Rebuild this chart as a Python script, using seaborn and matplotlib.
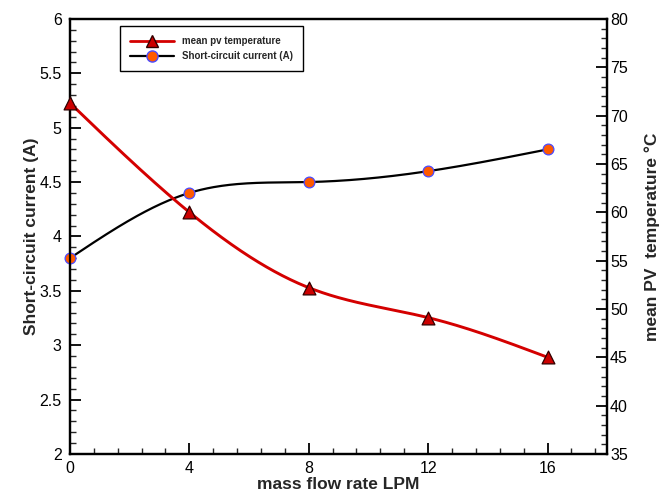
import numpy as np
import pandas as pd
import matplotlib
matplotlib.use("Agg")
import matplotlib.pyplot as plt
import seaborn as sns
from matplotlib.ticker import MultipleLocator
from matplotlib.lines import Line2D

# ---- data ----
flow_lpm = [0, 4, 8, 12, 16]
short_circuit_current = [3.8, 4.4, 4.5, 4.6, 4.8]
mean_pv_temperature = [71.3, 60.0, 52.2, 49.1, 45.0]
x_ticks = [0, 4, 8, 12, 16]


def natural_spline(x, y, n=300):
    """Smooth rendering curve through the data points (natural cubic spline)."""
    x = np.asarray(x, float)
    y = np.asarray(y, float)
    k = len(x)
    h = np.diff(x)
    A = np.zeros((k, k))
    b = np.zeros(k)
    A[0, 0] = A[-1, -1] = 1
    for i in range(1, k - 1):
        A[i, i - 1] = h[i - 1]
        A[i, i] = 2 * (h[i - 1] + h[i])
        A[i, i + 1] = h[i]
        b[i] = 3 * ((y[i + 1] - y[i]) / h[i] - (y[i] - y[i - 1]) / h[i - 1])
    c = np.linalg.solve(A, b)
    xs = np.linspace(x[0], x[-1], n)
    ys = np.empty_like(xs)
    for j, xv in enumerate(xs):
        i = min(np.searchsorted(x, xv, side="right") - 1, k - 2)
        d = xv - x[i]
        bb = (y[i + 1] - y[i]) / h[i] - h[i] * (2 * c[i] + c[i + 1]) / 3
        dd = (c[i + 1] - c[i]) / (3 * h[i])
        ys[j] = y[i] + bb * d + c[i] * d ** 2 + dd * d ** 3
    return xs, ys


sns.set_theme(style="white")
plt.rcParams["font.family"] = ["Liberation Sans", "DejaVu Sans"]

fig = plt.figure(figsize=(6.6, 4.91), dpi=100)
ax = fig.add_axes([0.106, 0.0755, 0.814, 0.886])
ax2 = ax.twinx()

red = "#d40000"
cur_x, cur_y = natural_spline(flow_lpm, short_circuit_current)
tmp_x, tmp_y = natural_spline(flow_lpm, mean_pv_temperature)

sns.lineplot(x=cur_x, y=cur_y, ax=ax, color="black", lw=1.6, zorder=2)
sns.scatterplot(x=flow_lpm, y=short_circuit_current, ax=ax, marker="o", s=60,
                color="#ff5a00", edgecolor="#4a4aff", linewidth=0.9, zorder=3,
                clip_on=False)

sns.lineplot(x=tmp_x, y=tmp_y, ax=ax2, color=red, lw=2.1, zorder=2)
sns.scatterplot(x=flow_lpm, y=mean_pv_temperature, ax=ax2, marker="^", s=85,
                color="#cc0000", edgecolor="#300000", linewidth=0.9, zorder=3,
                clip_on=False)

ax.set_xlim(0, 18)
ax.set_ylim(2, 6)
ax2.set_ylim(35, 80)

ax.set_xticks(x_ticks)
ax.xaxis.set_minor_locator(MultipleLocator(0.8))
ax.yaxis.set_major_locator(MultipleLocator(0.5))
ax.yaxis.set_minor_locator(MultipleLocator(0.1))
ax2.yaxis.set_major_locator(MultipleLocator(5))
ax2.yaxis.set_minor_locator(MultipleLocator(1))

ax.set_yticklabels([f"{v:g}" for v in ax.get_yticks()])

for a in (ax, ax2):
    for s in a.spines.values():
        s.set_linewidth(1.6)
        s.set_color("black")
        s.set_visible(True)

ax.tick_params(axis="both", which="major", direction="in", length=8, width=1.3,
               labelsize=11.5, colors="black", left=True, bottom=True,
               right=False, top=False)
ax.tick_params(axis="y", which="major", pad=6)
ax.tick_params(axis="x", which="major", pad=5)
ax.tick_params(axis="both", which="minor", direction="in", length=4.5, width=1.0,
               left=True, bottom=True, right=False, top=False)
ax2.tick_params(axis="y", which="major", direction="in", length=8, width=1.3,
                labelsize=11.5, colors="black", right=True, left=False, pad=2)
ax2.tick_params(axis="y", which="minor", direction="in", length=4.5, width=1.0,
                right=True, left=False)

ax.set_xlabel("mass flow rate LPM", fontsize=12.5, fontweight="bold", labelpad=1)
ax.set_ylabel("Short-circuit current (A)", fontsize=12.5, fontweight="bold")
ax2.set_ylabel("mean PV  temperature °C", fontsize=12.5, fontweight="bold", labelpad=12)
ax.yaxis.set_label_coords(-0.057, 0.5)

handles = [
    Line2D([0], [0], color=red, lw=2, marker="^", markersize=9,
           markerfacecolor="#cc0000", markeredgecolor="#300000"),
    Line2D([0], [0], color="black", lw=1.6, marker="o", markersize=8,
           markerfacecolor="#ff5a00", markeredgecolor="#4a4aff"),
]
leg = ax.legend(handles, ["mean pv temperature", "Short-circuit current (A)"],
                loc="upper left", bbox_to_anchor=(0.093, 0.983),
                prop={"size": 7, "weight": "bold"}, frameon=True,
                fancybox=False, edgecolor="black", framealpha=1,
                handlelength=4.6, borderpad=1.0, labelspacing=0.55,
                handletextpad=0.8, borderaxespad=0)
leg.get_frame().set_linewidth(1.0)
leg.set_zorder(5)

fig.savefig("out.png", dpi=100)
